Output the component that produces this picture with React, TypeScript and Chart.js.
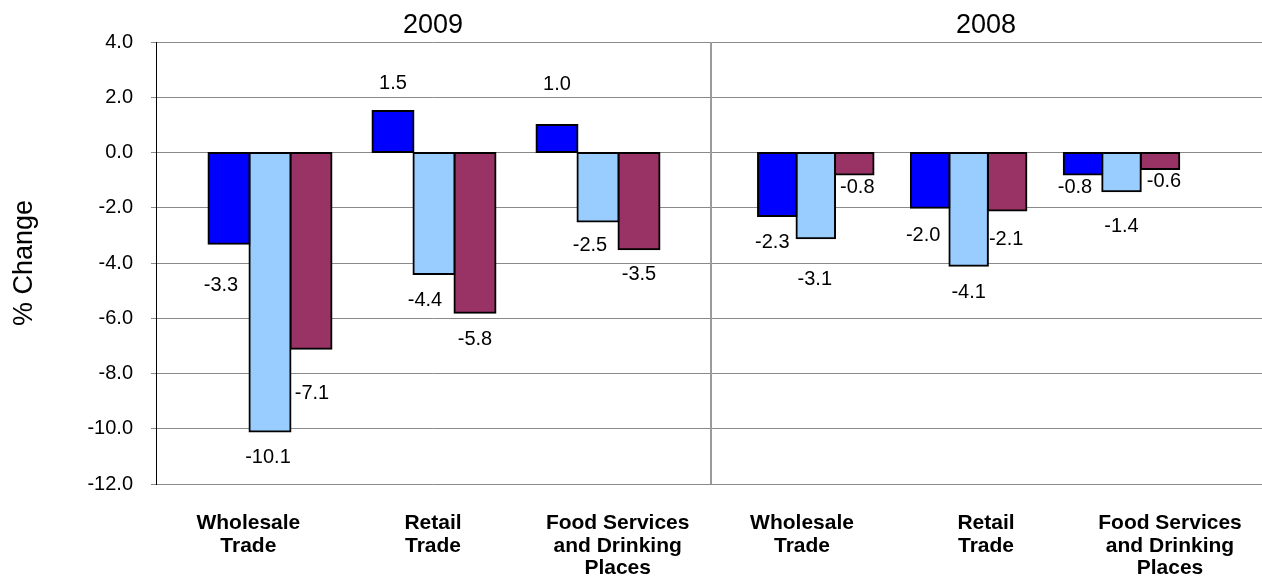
import React, { useEffect, useRef } from "react";
import { Chart, registerables } from "chart.js";

Chart.register(...registerables);

// ---------- data ----------
const years = ["2009", "2008"];
const categories: string[][] = [
  ["Wholesale", "Trade"],
  ["Retail", "Trade"],
  ["Food Services", "and Drinking", "Places"],
];
const seriesNames = ["Series 1", "Series 2", "Series 3"];
const seriesColors = ["#0000FF", "#99CCFF", "#993366"];

const series1_2009 = [-3.3, 1.5, 1.0];
const series2_2009 = [-10.1, -4.4, -2.5];
const series3_2009 = [-7.1, -5.8, -3.5];
const series1_2008 = [-2.3, -2.0, -0.8];
const series2_2008 = [-3.1, -4.1, -1.4];
const series3_2008 = [-0.8, -2.1, -0.6];

const yTickValues = [4, 2, 0, -2, -4, -6, -8, -10, -12];
const yTickLabels = ["4.0", "2.0", "0.0", "-2.0", "-4.0", "-6.0", "-8.0", "-10.0", "-12.0"];

const valuesByYear = [
  [series1_2009, series2_2009, series3_2009],
  [series1_2008, series2_2008, series3_2008],
];

// ---------- layout / style settings ----------
// value-label nudges in px from the bar end: [year][series][category] -> [dx, dy]
const labelNudges: number[][][][] = [
  [
    [[-8, 40], [0, -29], [0, -42]],
    [[-2, 24], [-9, 25], [-8, 22]],
    [[1, 43], [0, 25], [0, 24]],
  ],
  [
    [[-5, 25], [-7, 26], [-8, 11]],
    [[-1, 40], [0, 25], [0, 34]],
    [[3, 11], [-1, 27], [4, 11]],
  ],
];
// bar-position axis ranges per panel (so the bar groups sit where the original puts them)
const barAxisRange = [
  { min: -0.695, max: 2.683 },
  { min: -0.692, max: 2.919 },
];
const barWidths = [41, 38.5];
const panelWidths = [710, 552];

const FONT = '"Liberation Sans", Arial, Helvetica, sans-serif';
const GRID = "#8a8a8a";

function makeValueLabelPlugin(yi: number) {
  return {
    id: "valueLabels",
    afterDatasetsDraw(chart: any) {
      const ctx = chart.ctx;
      ctx.save();
      ctx.font = `20px ${FONT}`;
      ctx.fillStyle = "#000";
      ctx.textAlign = "center";
      ctx.textBaseline = "alphabetic";
      chart.data.datasets.forEach((ds: any, si: number) => {
        const meta = chart.getDatasetMeta(si);
        meta.data.forEach((el: any, i: number) => {
          const v = ds.data[i].y as number;
          const [dx, dy] = labelNudges[yi][si][i];
          ctx.fillText(v.toFixed(1), el.x + dx, el.y + dy + 7);
        });
      });
      ctx.restore();
    },
  };
}

function makePanelPlugin(yi: number) {
  return {
    id: "panel",
    beforeDatasetsDraw(chart: any) {
      const { ctx, chartArea } = chart;
      ctx.save();
      if (yi === 1) {
        ctx.strokeStyle = "#9a9a9a";
        ctx.lineWidth = 2;
        ctx.beginPath();
        ctx.moveTo(chartArea.left + 1, chartArea.top);
        ctx.lineTo(chartArea.left + 1, chartArea.bottom);
        ctx.stroke();
      }
      ctx.font = `27px ${FONT}`;
      ctx.fillStyle = "#000";
      ctx.textAlign = "center";
      ctx.textBaseline = "alphabetic";
      ctx.fillText(years[yi], (chartArea.left + chartArea.right) / 2, 33);
      ctx.restore();
    },
  };
}

function buildChart(canvas: HTMLCanvasElement, yi: number) {
  const showY = yi === 0;
  const datasets = valuesByYear[yi].map((vals, si) => ({
    label: seriesNames[si],
    data: vals.map((v, i) => ({ x: i, y: v })),
    xAxisID: "xv",
    yAxisID: "y",
    backgroundColor: seriesColors[si],
    borderColor: "#000",
    borderWidth: 2,
    borderSkipped: false,
    inflateAmount: 1,
    barThickness: barWidths[yi],
  }));

  return new Chart(canvas, {
    type: "bar",
    data: { labels: categories, datasets },
    options: {
      animation: false,
      responsive: false,
      devicePixelRatio: 1,
      layout: { padding: { top: 42, right: 0, bottom: 0, left: 0 } },
      plugins: {
        legend: { display: false },
        tooltip: { enabled: false },
        title: { display: false },
      },
      scales: {
        x: {
          type: "category",
          position: "bottom",
          offset: true,
          grid: { display: false },
          border: { display: false },
          ticks: {
            autoSkip: false,
            maxRotation: 0,
            minRotation: 0,
            padding: 20,
            color: "#000",
            font: { family: FONT, size: 21, weight: "bold", lineHeight: 1.07 },
          },
          afterFit: (s: any) => {
            s.height = 92;
            s.paddingLeft = 0;
            s.paddingRight = 0;
          },
        },
        xv: {
          type: "linear",
          position: "bottom",
          display: false,
          offset: false,
          min: barAxisRange[yi].min,
          max: barAxisRange[yi].max,
        },
        y: {
          type: "linear",
          position: "left",
          min: -12,
          max: 4,
          afterBuildTicks: (s: any) => {
            s.ticks = yTickValues.map((v) => ({ value: v }));
          },
          ticks: {
            display: showY,
            color: "#000",
            padding: 18,
            font: { family: FONT, size: 20 },
            callback: (v: any) => yTickLabels[yTickValues.indexOf(Number(v))] ?? "",
          },
          grid: { color: GRID, lineWidth: 1, tickLength: 5, drawTicks: showY },
          border: { display: showY, color: "#000", width: 1 },
          title: {
            display: showY,
            text: "% Change",
            color: "#000",
            font: { family: FONT, size: 27 },
            padding: { top: 8, bottom: 0 },
          },
          afterFit: (s: any) => {
            s.width = showY ? 156 : 0;
          },
        },
      } as any,
    },
    plugins: [makePanelPlugin(yi), makeValueLabelPlugin(yi)],
  } as any);
}

export default function App() {
  const leftRef = useRef<HTMLCanvasElement | null>(null);
  const rightRef = useRef<HTMLCanvasElement | null>(null);

  useEffect(() => {
    if (!leftRef.current || !rightRef.current) return;
    const c1 = buildChart(leftRef.current, 0);
    const c2 = buildChart(rightRef.current, 1);
    return () => {
      c1.destroy();
      c2.destroy();
    };
  }, []);

  return (
    <div style={{ position: "absolute", left: 0, top: 0, width: 1262, height: 576, background: "#fff" }}>
      <canvas
        ref={leftRef}
        width={panelWidths[0]}
        height={576}
        style={{ position: "absolute", left: 0, top: 0, display: "block" }}
      />
      <canvas
        ref={rightRef}
        width={panelWidths[1]}
        height={576}
        style={{ position: "absolute", left: panelWidths[0], top: 0, display: "block" }}
      />
    </div>
  );
}
